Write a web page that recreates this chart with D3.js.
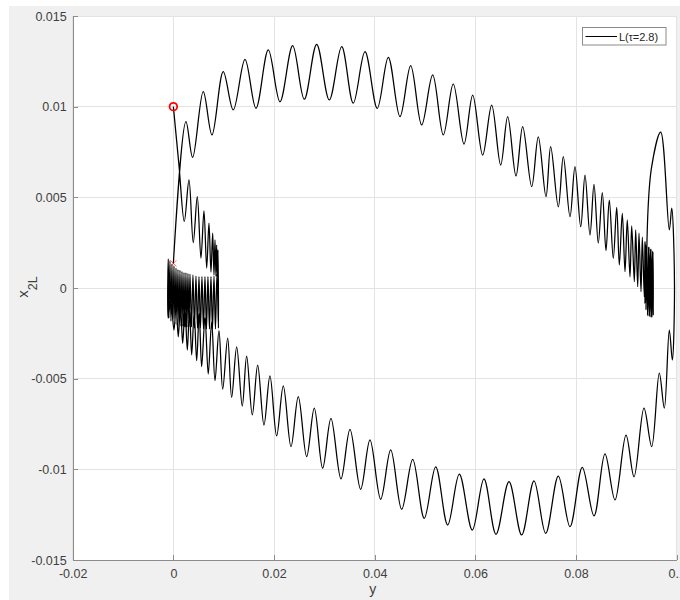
<!DOCTYPE html>
<meta charset="utf-8">
<style>

    body {
        margin: 0;
        background: #fff;
    }

    svg {
        display: block;
        font-family: "Liberation Sans", Arial, sans-serif;
    }

    .axis path,
    .axis line {
        fill: none;
        stroke: #8c8c8c;
        shape-rendering: crispEdges;
    }

    .axis text {
        fill: #404040;
        font-size: 12.5px;
    }

    .grid line {
        stroke: #e3e3e3;
        shape-rendering: crispEdges;
    }

</style>
<body>
<script src="https://d3js.org/d3.v7.min.js"></script>
<script>

    // axis ticks
    var xTicks = [-0.02, 0, 0.02, 0.04, 0.06, 0.08, 0.1];
    var xTickLabels = ["-0.02", "0", "0.02", "0.04", "0.06", "0.08", "0.1"];
    var yTicks = [-0.015, -0.01, -0.005, 0, 0.005, 0.01, 0.015];
    var yTickLabels = ["-0.015", "-0.01", "-0.005", "0", "0.005", "0.01", "0.015"];

    // trajectory L(tau=2.8), points are [y, x2L]
    var startPoint = [0, 0.0100];
    var endPoint = [0, 0.00136];

    // from the start circle down into the left cluster
    var descent = [
        [0, 0.0100], [0.00111, 0.00678], [0.00217, 0.00367], [0.00310, 0.00596],
        [0.00395, 0.00250], [0.00475, 0.00504], [0.00548, 0.00165], [0.00608, 0.00426],
        [0.00662, 0.00110], [0.00707, 0.00358], [0.00747, 0.00088], [0.00781, 0.00302],
        [0.00807, 0.00072], [0.00827, 0.00265], [0.00846, 0.00066], [0.00860, 0.00237],
        [0.00876, 0.00061], [0.00886, 0.00210]
    ];

    // dense oscillation near y = 0, moving left
    var leftCluster = [
        [0.00896, -0.00221], [0.00866, 0.00077], [0.00836, -0.00226], [0.00807, 0.00066],
        [0.00777, -0.00226], [0.00747, 0.00063], [0.00717, -0.00226], [0.00687, 0.00063],
        [0.00658, -0.00226], [0.00628, 0.00063], [0.00598, -0.00226], [0.00568, 0.00063],
        [0.00538, -0.00221], [0.00509, 0.00063], [0.00479, -0.00221], [0.00449, 0.00066],
        [0.00419, -0.00221], [0.00389, 0.00072], [0.00360, -0.00215], [0.00330, 0.00077],
        [0.00310, -0.00215], [0.00290, 0.00080], [0.00270, -0.00215], [0.00250, 0.00083],
        [0.00230, -0.00215], [0.00211, 0.00085], [0.00191, -0.00210], [0.00171, 0.00091],
        [0.00151, -0.00210], [0.00131, 0.00097], [0.00111, -0.00210], [0.00091, 0.00102],
        [0.00072, -0.00204], [0.00052, 0.00110], [0.00032, -0.00199], [0.00012, 0.00121],
        [-0.00008, -0.00193], [-0.00028, 0.00132], [-0.00048, -0.00182], [-0.00068, 0.00149],
        [-0.00088, -0.00165], [-0.00101, 0.00160], [-0.00113, -0.00066]
    ];

    // back out to the right, lower arc, up the right side
    var bottomArc = [
        [-0.00103, -0.00165], [-0.00052, -0.00066], [0.00012, -0.00232], [0.00056, -0.00088],
        [0.00097, -0.00269], [0.00141, -0.00099], [0.00185, -0.00305], [0.00231, -0.00110],
        [0.00277, -0.00342], [0.00320, -0.00121], [0.00364, -0.00369], [0.00413, -0.00132],
        [0.00463, -0.00401], [0.00513, -0.00143], [0.00562, -0.00434], [0.00628, -0.00165],
        [0.00693, -0.00474], [0.00761, -0.00187], [0.00827, -0.00511],
        [0.00906, -0.00235], [0.00980, -0.00558], [0.01079, -0.00277], [0.01158, -0.00603],
        [0.01258, -0.00324], [0.01369, -0.00651], [0.01456, -0.00375], [0.01568, -0.00700],
        [0.01675, -0.00425], [0.01800, -0.00756], [0.01919, -0.00485], [0.02052, -0.00816],
        [0.02184, -0.00540], [0.02337, -0.00875], [0.02482, -0.00599], [0.02648, -0.00930],
        [0.02800, -0.00663], [0.02966, -0.00994], [0.03131, -0.00719], [0.03330, -0.01053],
        [0.03509, -0.00779], [0.03721, -0.01110], [0.03906, -0.00838], [0.04119, -0.01165],
        [0.04318, -0.00893], [0.04536, -0.01220], [0.04755, -0.00945], [0.04985, -0.01270],
        [0.05212, -0.00986], [0.05450, -0.01307], [0.05681, -0.01026], [0.05939, -0.01335],
        [0.06171, -0.01053], [0.06410, -0.01358], [0.06668, -0.01068], [0.06920, -0.01362],
        [0.07165, -0.01063], [0.07397, -0.01353], [0.07648, -0.01037], [0.07880, -0.01316],
        [0.08124, -0.00989], [0.08357, -0.01257], [0.08575, -0.00915], [0.08774, -0.01169],
        [0.08993, -0.00811], [0.09152, -0.01041], [0.09350, -0.00663], [0.09503, -0.00875],
        [0.09654, -0.00470], [0.09754, -0.00663], [0.09853, -0.00232], [0.09913, -0.00397],
        [0.09956, 0.00017], [0.09901, 0.00440], [0.09853, 0.00320], [0.09682, 0.00859],
        [0.09499, 0.00662], [0.09410, 0.00265]
    ];

    // dense oscillation near y = 0.095
    var rightCluster = [
        [0.09430, -0.00154], [0.09450, 0.00226], [0.09470, -0.00160], [0.09490, 0.00215],
        [0.09509, -0.00160], [0.09529, 0.00199], [0.09535, -0.00149], [0.09519, 0.00204],
        [0.09499, -0.00160], [0.09479, 0.00215], [0.09460, -0.00154], [0.09440, 0.00226],
        [0.09420, -0.00149], [0.09400, 0.00237], [0.09390, -0.00121], [0.09380, 0.00243],
        [0.09370, -0.00083]
    ];

    // upper arc back to the left, ending at the cross
    var topArc = [
        [0.09370, 0.00255], [0.09356, -0.00048], [0.09317, 0.00280], [0.09291, -0.00020],
        [0.09251, 0.00302], [0.09225, 0.00007], [0.09185, 0.00320], [0.09158, 0.00035],
        [0.09106, 0.00342], [0.09072, 0.00062], [0.09018, 0.00375], [0.08973, 0.00090],
        [0.08919, 0.00412], [0.08860, 0.00127], [0.08808, 0.00445], [0.08740, 0.00164],
        [0.08661, 0.00485], [0.08595, 0.00206], [0.08522, 0.00526], [0.08442, 0.00247],
        [0.08357, 0.00572], [0.08277, 0.00292], [0.08178, 0.00623], [0.08093, 0.00338],
        [0.07979, 0.00669], [0.07880, 0.00393], [0.07747, 0.00724], [0.07648, 0.00448],
        [0.07496, 0.00779], [0.07403, 0.00504], [0.07250, 0.00834], [0.07119, 0.00559],
        [0.06940, 0.00890], [0.06807, 0.00618], [0.06642, 0.00945], [0.06503, 0.00678],
        [0.06324, 0.01009], [0.06145, 0.00733], [0.05947, 0.01064], [0.05774, 0.00794],
        [0.05561, 0.01125], [0.05363, 0.00844], [0.05152, 0.01175], [0.04933, 0.00899],
        [0.04715, 0.01226], [0.04502, 0.00945], [0.04270, 0.01272], [0.04051, 0.00991],
        [0.03807, 0.01303], [0.03574, 0.01019], [0.03344, 0.01331], [0.03098, 0.01037],
        [0.02847, 0.01344], [0.02601, 0.01041], [0.02370, 0.01336], [0.02118, 0.01027],
        [0.01886, 0.01313], [0.01641, 0.00991], [0.01423, 0.01261], [0.01190, 0.00982],
        [0.00991, 0.01193], [0.00767, 0.00844], [0.00594, 0.01083], [0.00383, 0.00720],
        [0.00250, 0.00918], [0, 0.00136]
    ];

    var width = 680,
        height = 600;

    var margin = {top: 16, right: 3.3, bottom: 40, left: 72.7};
    var plotW = width - margin.left - margin.right,
        plotH = height - margin.top - margin.bottom;

    var x = d3.scaleLinear().domain([-0.02, 0.1]).range([0, plotW]);
    var y = d3.scaleLinear().domain([-0.015, 0.015]).range([plotH, 0]);

    var svg = d3.select("body").append("svg")
        .attr("width", width)
        .attr("height", height);

    // figure background
    svg.append("rect")
        .attr("x", 9).attr("y", 6)
        .attr("width", width - 9).attr("height", height - 6)
        .attr("fill", "#f0f0f0");

    var g = svg.append("g")
        .attr("transform", "translate(" + margin.left + "," + margin.top + ")");

    g.append("rect")
        .attr("width", plotW)
        .attr("height", plotH)
        .attr("fill", "#fff");

    // grid
    g.append("g").attr("class", "grid")
        .selectAll("line")
        .data(xTicks)
        .enter().append("line")
        .attr("x1", function(d) { return x(d); })
        .attr("x2", function(d) { return x(d); })
        .attr("y1", 0).attr("y2", plotH);

    g.append("g").attr("class", "grid")
        .selectAll("line")
        .data(yTicks)
        .enter().append("line")
        .attr("y1", function(d) { return y(d); })
        .attr("y2", function(d) { return y(d); })
        .attr("x1", 0).attr("x2", plotW);

    // axes, ticks pointing inward
    g.append("g")
        .attr("class", "x axis")
        .attr("transform", "translate(0," + plotH + ")")
        .call(d3.axisBottom(x)
            .tickValues(xTicks)
            .tickFormat(function(d, i) { return xTickLabels[i]; })
            .tickSizeInner(-5)
            .tickSizeOuter(0)
            .tickPadding(9.5));

    g.append("g")
        .attr("class", "y axis")
        .call(d3.axisLeft(y)
            .tickValues(yTicks)
            .tickFormat(function(d, i) { return yTickLabels[i]; })
            .tickSizeInner(-5)
            .tickSizeOuter(0)
            .tickPadding(6));

    // trajectory
    var path = descent.concat(leftCluster, bottomArc, rightCluster, topArc);

    var line = d3.line()
        .x(function(d) { return x(d[0]); })
        .y(function(d) { return y(d[1]); })
        .curve(d3.curveCatmullRom.alpha(0.5));

    g.append("path")
        .datum(path)
        .attr("fill", "none")
        .attr("stroke", "#000")
        .attr("stroke-width", 1.25)
        .attr("stroke-linejoin", "round")
        .attr("d", line);

    // start / end markers
    g.append("circle")
        .attr("cx", x(startPoint[0]))
        .attr("cy", y(startPoint[1]))
        .attr("r", 3.8)
        .attr("fill", "none")
        .attr("stroke", "#ff0000")
        .attr("stroke-width", 1.8);

    var cross = d3.symbol().type(d3.symbolTimes).size(26);
    g.append("path")
        .attr("transform", "translate(" + x(endPoint[0]) + "," + y(endPoint[1]) + ")")
        .attr("d", cross)
        .attr("fill", "#ff0000")
        .attr("stroke", "#ff0000")
        .attr("stroke-width", 0.6);

    // axis labels
    svg.append("text")
        .attr("x", margin.left + plotW / 2 - 2)
        .attr("y", 594)
        .attr("text-anchor", "middle")
        .attr("fill", "#404040")
        .style("font-size", "14px")
        .text("y");

    var ylab = svg.append("text")
        .attr("transform", "translate(28,287) rotate(-90)")
        .attr("text-anchor", "middle")
        .attr("fill", "#404040")
        .style("font-size", "15px");
    ylab.append("tspan").text("x");
    ylab.append("tspan").attr("dy", 9).style("font-size", "12.5px").text("2L");

    // legend
    var leg = svg.append("g").attr("transform", "translate(582.5,27.5)");
    leg.append("rect")
        .attr("width", 83.5).attr("height", 17.5)
        .attr("fill", "#fff")
        .attr("stroke", "#8a8a8a")
        .attr("stroke-width", 1);
    leg.append("line")
        .attr("x1", 3).attr("x2", 34.5)
        .attr("y1", 9).attr("y2", 9)
        .attr("stroke", "#000").attr("stroke-width", 1);
    var legText = leg.append("text")
        .attr("x", 36.5).attr("y", 13)
        .attr("fill", "#262626")
        .style("font-size", "11px");
    legText.append("tspan").text("L(");
    legText.append("tspan").style("font-size", "10px").text("\u03c4");
    legText.append("tspan").text("=2.8)");

</script>
